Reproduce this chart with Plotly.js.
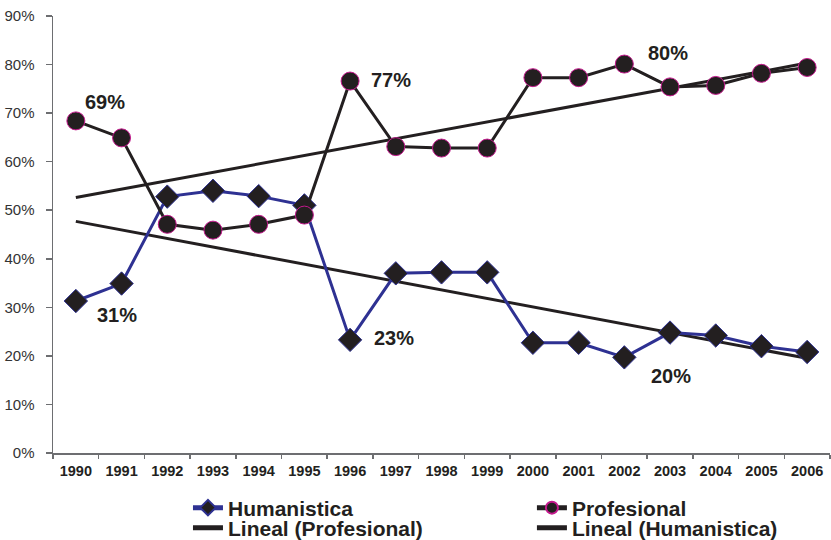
<!DOCTYPE html>
<html>
<head>
<meta charset="utf-8">
<script src="https://cdn.plot.ly/plotly-3.0.1.min.js"></script>
<style>html,body{margin:0;padding:0;background:#fff;}#chart{width:831px;height:540px;}</style>
</head>
<body>
<div id="chart"></div>
<script>
var years = ['1990','1991','1992','1993','1994','1995','1996','1997','1998','1999','2000','2001','2002','2003','2004','2005','2006'];
var humanistica = [31.3, 34.9, 52.8, 54.0, 52.9, 51.0, 23.3, 37.0, 37.2, 37.2, 22.7, 22.7, 19.7, 24.8, 24.2, 22.0, 20.8];
var profesional = [68.4, 64.9, 47.1, 45.9, 47.1, 49.0, 76.6, 63.1, 62.8, 62.8, 77.3, 77.3, 80.1, 75.4, 75.7, 78.2, 79.4];
var trendYears = ['1990', '2006'];
var trendProfesional = [52.6, 80.3];
var trendHumanistica = [47.7, 19.5];
var labelTexts = ['69%', '77%', '80%', '31%', '23%', '20%'];
var yTicks = [0, 10, 20, 30, 40, 50, 60, 70, 80, 90];
var yTickLabels = ['0%', '10%', '20%', '30%', '40%', '50%', '60%', '70%', '80%', '90%'];

var ink = '#231f20';
var font = 'Liberation Sans, Arial, sans-serif';

var traces = [
  {x: trendYears, y: trendProfesional, type: 'scatter', mode: 'lines', name: 'Lineal (Profesional)',
   line: {color: ink, width: 3}, legend: 'legend3', hoverinfo: 'skip'},
  {x: trendYears, y: trendHumanistica, type: 'scatter', mode: 'lines', name: 'Lineal (Humanistica)',
   line: {color: ink, width: 3}, legend: 'legend4', hoverinfo: 'skip'},
  {x: years, y: humanistica, type: 'scatter', mode: 'lines+markers', name: 'Humanistica',
   line: {color: '#2e3192', width: 3},
   marker: {symbol: 'diamond', size: 18, color: ink, line: {color: '#2e3192', width: 1}},
   legend: 'legend'},
  {x: years, y: profesional, type: 'scatter', mode: 'lines+markers', name: 'Profesional',
   line: {color: ink, width: 3},
   marker: {symbol: 'circle', size: 18, color: ink, line: {color: '#c4198d', width: 1}},
   legend: 'legend2'}
];

var labelPos = [[0.64, 72.3], [6.9, 76.8], [12.96, 82.4], [0.9, 28.4], [6.96, 23.7], [13.02, 15.9]];
var annotations = labelTexts.map(function(t, i){
  return {x: labelPos[i][0], y: labelPos[i][1], xref: 'x', yref: 'y', text: t, showarrow: false,
          font: {family: font, size: 20, color: ink, weight: 'bold'}, xanchor: 'center', yanchor: 'middle'};
});

function mkLegend(x, y) {
  return {
    orientation: 'h', xref: 'container', yref: 'container', x: x, y: y,
    xanchor: 'left', yanchor: 'middle',
    font: {family: font, size: 21, color: ink, weight: 'bold'},
    bgcolor: 'rgba(0,0,0,0)', itemsizing: 'constant', borderwidth: 0
  };
}

var layout = {
  width: 831, height: 540,
  margin: {l: 53, r: 1, t: 16, b: 87},
  paper_bgcolor: '#ffffff', plot_bgcolor: '#ffffff',
  showlegend: true,
  xaxis: {
    type: 'category', categoryorder: 'array', categoryarray: years,
    range: [-0.5, 16.5], showgrid: false, zeroline: false,
    showline: true, linecolor: '#6d6e71', linewidth: 1.5,
    ticks: 'outside', tickson: 'boundaries', ticklen: 4, tickcolor: '#6d6e71', tickwidth: 1.5,
    tickfont: {family: font, size: 14.5, color: ink, weight: 'bold'},
    ticklabelstandoff: 4, fixedrange: true
  },
  yaxis: {
    range: [0, 90], tickmode: 'array', tickvals: yTicks, ticktext: yTickLabels,
    showgrid: false, zeroline: false,
    showline: true, linecolor: '#6d6e71', linewidth: 1.5,
    ticks: 'outside', ticklen: 6, tickcolor: '#6d6e71', tickwidth: 1.5,
    tickfont: {family: font, size: 15, color: '#333333'},
    ticklabelstandoff: 8, fixedrange: true
  },
  legend: mkLegend(0.2262, 0.0593),
  legend2: mkLegend(0.6401, 0.0593),
  legend3: mkLegend(0.2262, 0.0222),
  legend4: mkLegend(0.6401, 0.0222),
  annotations: annotations
};

Plotly.newPlot('chart', traces, layout, {displayModeBar: false, staticPlot: true});
</script>
</body>
</html>
